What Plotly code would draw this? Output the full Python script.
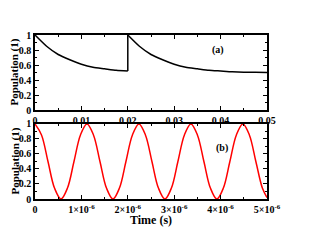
import plotly.graph_objects as go
from plotly.subplots import make_subplots

# Panel (a): population vs time (s), reset at 0.02
t_a1 = [0.0, 0.0025, 0.005, 0.0075, 0.01, 0.0125, 0.015, 0.0175, 0.02]
p_a1 = [1.0, 0.85, 0.74, 0.67, 0.61, 0.57, 0.55, 0.53, 0.52]
t_a2 = [0.02, 0.0225, 0.025, 0.0275, 0.03, 0.0325, 0.035, 0.0375, 0.04,
        0.0425, 0.045, 0.0475, 0.05]
p_a2 = [1.0, 0.85, 0.74, 0.67, 0.61, 0.57, 0.55, 0.53, 0.52,
        0.51, 0.505, 0.503, 0.50]
t_jump = [0.02, 0.02]
p_jump = [0.52, 1.0]

# Panel (b): oscillation, time in units of 1e-6 s
t_b_us = [0.0, 0.14, 0.28, 0.42, 0.56, 0.70, 0.84, 0.98, 1.12, 1.26, 1.40, 1.54,
          1.68, 1.82, 1.96, 2.10, 2.24, 2.38, 2.52, 2.66, 2.80, 2.94, 3.08, 3.22,
          3.36, 3.50, 3.64, 3.78, 3.92, 4.06, 4.20, 4.34, 4.48, 4.62, 4.76, 4.90, 5.00]
p_b = [1.0, 0.854, 0.5, 0.146, 0.0, 0.146, 0.5, 0.854, 1.0, 0.854, 0.5, 0.146,
       0.0, 0.146, 0.5, 0.854, 1.0, 0.854, 0.5, 0.146, 0.0, 0.146, 0.5, 0.854,
       1.0, 0.854, 0.5, 0.146, 0.0, 0.146, 0.5, 0.854, 1.0, 0.854, 0.5, 0.146, 0.02]

xa_ticks = [0, 0.01, 0.02, 0.03, 0.04, 0.05]
xa_labels = ["0", "0.01", "0.02", "0.03", "0.04", "0.05"]
xb_ticks_us = [0, 1, 2, 3, 4, 5]
xb_labels = ["0", "1×10<sup>-6</sup>", "2×10<sup>-6</sup>", "3×10<sup>-6</sup>",
             "4×10<sup>-6</sup>", "5×10<sup>-6</sup>"]
y_ticks = [0, 0.2, 0.4, 0.6, 0.8, 1]
y_labels = ["0", "0.2", "0.4", "0.6", "0.8", "1"]
y_title = "Population (1)"
x_title = "Time (s)"

t_b = [v * 1e-6 for v in t_b_us]
xb_ticks = [v * 1e-6 for v in xb_ticks_us]


def bold(labels):
    return ["<b>" + s + "</b>" for s in labels]


fig = make_subplots(rows=2, cols=1, vertical_spacing=0.085)
line_a = dict(color="black", width=1.5, shape="spline", smoothing=0.6)
fig.add_trace(go.Scatter(x=t_a1, y=p_a1, mode="lines", line=line_a), row=1, col=1)
fig.add_trace(go.Scatter(x=t_jump, y=p_jump, mode="lines",
                         line=dict(color="black", width=1.5)), row=1, col=1)
fig.add_trace(go.Scatter(x=t_a2, y=p_a2, mode="lines", line=line_a), row=1, col=1)
fig.add_trace(go.Scatter(x=t_b, y=p_b, mode="lines",
                         line=dict(color="red", width=1.5, shape="spline", smoothing=1.0)),
              row=2, col=1)

font = dict(family="Liberation Serif", size=10, color="black")
common_axis = dict(showline=True, linecolor="black", linewidth=1.5, mirror="allticks",
                   ticks="inside", ticklen=4, tickwidth=1, tickcolor="black",
                   showgrid=False, zeroline=False, tickfont=font, automargin=False)

fig.update_xaxes(**common_axis)
fig.update_yaxes(**common_axis)

fig.update_xaxes(range=[0, 0.05], tickvals=xa_ticks, ticktext=bold(xa_labels),
                 minor=dict(ticks="inside", ticklen=2, dtick=0.005, tick0=0, tickcolor="black"),
                 row=1, col=1)
fig.update_xaxes(range=[0, 5e-6], tickvals=xb_ticks, ticktext=bold(xb_labels),
                 minor=dict(ticks="inside", ticklen=2, dtick=0.5e-6, tick0=0, tickcolor="black"),
                 row=2, col=1)
for r in (1, 2):
    fig.update_yaxes(range=[0, 1], tickvals=y_ticks, ticktext=bold(y_labels),
                     minor=dict(ticks="inside", ticklen=2, dtick=0.1, tick0=0, tickcolor="black"),
                     row=r, col=1)

title_font = dict(family="Liberation Serif", size=11, color="black")
for dom in (fig.layout.yaxis.domain, fig.layout.yaxis2.domain):
    fig.add_annotation(x=0, y=(dom[0] + dom[1]) / 2, xref="paper", yref="paper",
                       text="<b>" + y_title + "</b>", textangle=-90, showarrow=False,
                       xanchor="center", yanchor="middle", xshift=-20, font=title_font)
fig.add_annotation(x=0.5, y=0, xref="paper", yref="paper", text="<b>" + x_title + "</b>",
                   showarrow=False, xanchor="center", yanchor="middle", yshift=-21,
                   font=dict(family="Liberation Serif", size=12, color="black"))

fig.add_annotation(x=0.0394, y=0.8, xref="x", yref="y", text="<b>(a)</b>", showarrow=False,
                   font=dict(family="Liberation Serif", size=10, color="black"))
fig.add_annotation(x=4.03e-6, y=0.68, xref="x2", yref="y2", text="<b>(b)</b>", showarrow=False,
                   font=dict(family="Liberation Serif", size=10, color="black"))

# page body has an 8px margin; size the figure so it fits the 311x241 window
fig.update_layout(width=295, height=225, margin=dict(l=27, r=36, t=27, b=34),
                  paper_bgcolor="white", plot_bgcolor="white", showlegend=False,
                  font=dict(family="Liberation Serif", size=10, color="black"))
fig.write_html("out.html")
